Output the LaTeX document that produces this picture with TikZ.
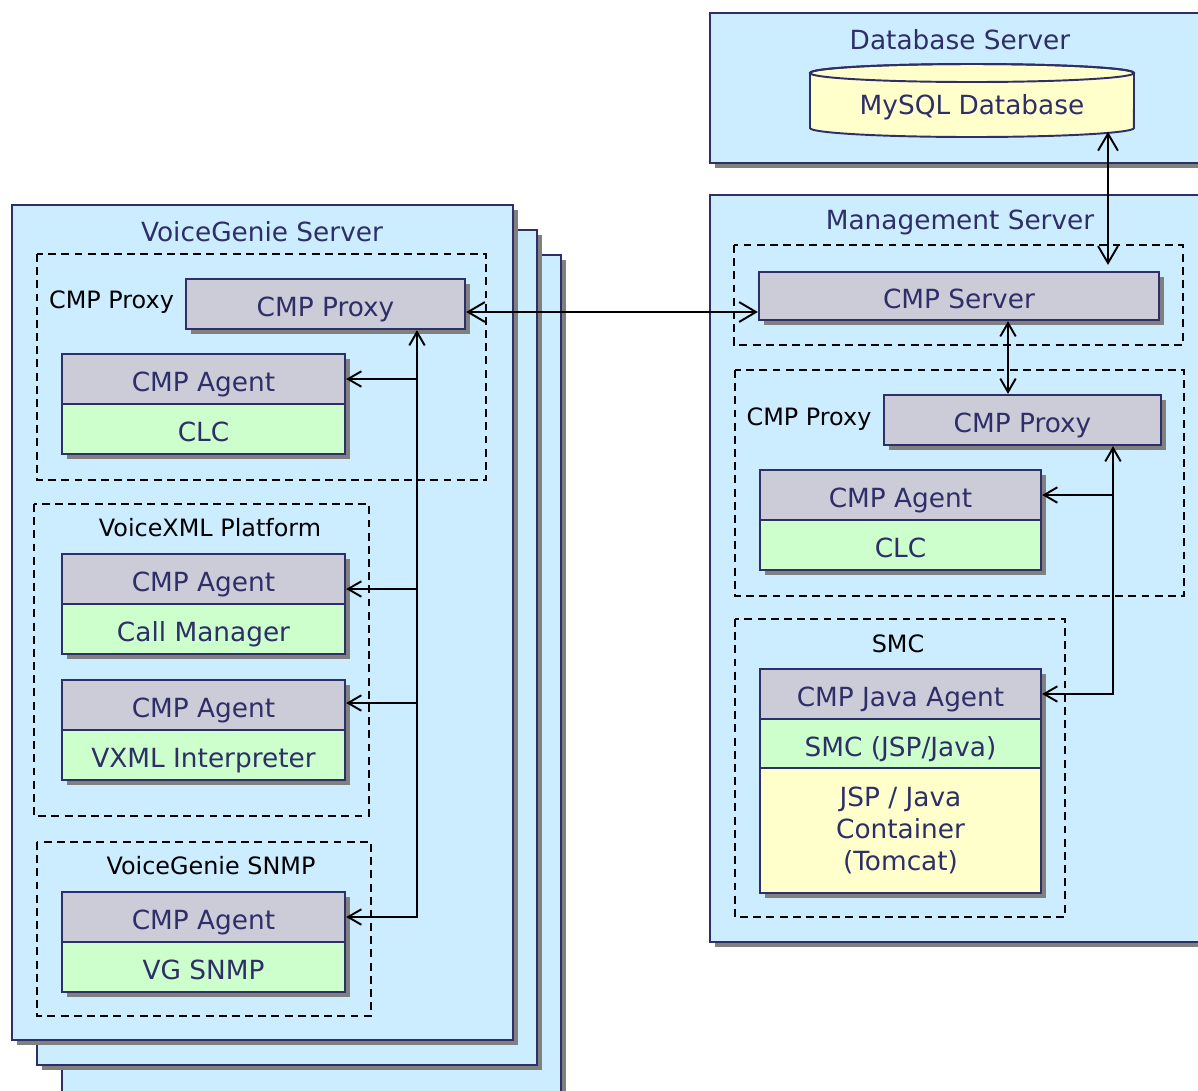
\documentclass[tikz,border=0pt]{standalone}
\usepackage{fontspec}
\setmainfont{DejaVu Sans}
\usepackage{xcolor}
\usepackage{tikz}
\usetikzlibrary{arrows.meta,shadows,calc}

\definecolor{srvblue}{RGB}{204,236,255}
\definecolor{navy}{RGB}{46,46,104}
\definecolor{agentgray}{RGB}{204,204,216}
\definecolor{compgreen}{RGB}{204,255,204}
\definecolor{dbyellow}{RGB}{255,255,204}
\definecolor{shadowgray}{RGB}{128,128,128}

\tikzset{
  shadowed/.style={drop shadow={shadow xshift=2.8pt, shadow yshift=-2.8pt, fill=shadowgray, opacity=1}},
  server/.style={draw=navy, line width=1.1pt, fill=srvblue, shadowed},
  groupbox/.style={draw=black, line width=1pt, dash pattern=on 4.5pt off 3pt},
  box/.style={draw=navy, line width=1.3pt, text=navy, inner sep=0pt, font=\fontsize{15}{18.4}\selectfont, shadowed},
  agent/.style={box, fill=agentgray, minimum height=1cm, text height=14.5pt, text depth=0pt},
  comp/.style={box, fill=compgreen, minimum height=1cm, text height=14.5pt, text depth=0pt},
  title/.style={text=navy, inner sep=0pt, font=\fontsize{15}{18}\selectfont},
  grouplabel/.style={text=black, inner sep=0pt, font=\fontsize{13.6}{16}\selectfont},
  link/.style={line width=1.1pt, {Straight Barb[length=7.6pt,width=8.8pt]}-{Straight Barb[length=7.6pt,width=8.8pt]}},
  longlink/.style={line width=1.1pt, {Straight Barb[length=9.6pt,width=11.3pt]}-{Straight Barb[length=9.6pt,width=11.3pt]}},
  feed/.style={line width=1.1pt, -{Straight Barb[length=7.6pt,width=8.8pt]}}
}

\begin{document}
\begin{tikzpicture}[x=0.02cm, y=-0.02cm]
            \clip (0,0) rectangle (1198,1090);
            % VoiceGenie servers (stacked)
            \draw[server] (62,255) rectangle (561,1120);
            \draw[server] (37,230) rectangle (537,1065);
            \draw[server] (12,205) rectangle (513,1040);
            \node[title] (vgtitle) at (262,232) {VoiceGenie Server};
            % Database server
            \draw[server] (710,13) rectangle (1220,163);
            \node[title] (dbtitle) at (960,40) {Database Server};
            \filldraw[draw=navy, line width=1.1pt, fill=dbyellow] (810,73) -- (810,128)
                arc[start angle=180, end angle=360, x radius=3.24cm, y radius=0.18cm] -- (1134,73)
                arc[start angle=0, end angle=180, x radius=3.24cm, y radius=0.18cm] -- cycle;
            \draw[navy, line width=1.1pt] (972,73) ellipse [x radius=3.24cm, y radius=0.18cm];
            \node[title, minimum width=6.48cm, minimum height=1.1cm, text depth=0pt] (db) at (972,104) {MySQL Database};
            % Management server
            \draw[server] (710,195) rectangle (1220,942);
            \node[title] (mgtitle) at (960,222) {Management Server};

            % dashed groups, left
            \draw[groupbox] (37,254) rectangle (486,480);
            \node[grouplabel] (vgproxylabel) at (111.5,302) {CMP Proxy};
            \draw[groupbox] (34,504) rectangle (369,816);
            \node[grouplabel] (vxmllabel) at (210,528) {VoiceXML Platform};
            \draw[groupbox] (37,842) rectangle (371,1016);
            \node[grouplabel] (snmplabel) at (211,866) {VoiceGenie SNMP};
            % dashed groups, right
            \draw[groupbox] (734,245) rectangle (1183,345);
            \draw[groupbox] (735,370) rectangle (1184,596);
            \node[grouplabel] (mgproxylabel) at (809,419) {CMP Proxy};
            \draw[groupbox] (735,619) rectangle (1065,917);
            \node[grouplabel] (smclabel) at (898,644) {SMC};

            % VoiceGenie boxes
            \node[agent, minimum width=5.58cm] (vgproxy) at (325.5,304) {CMP Proxy};
            \node[agent, minimum width=5.66cm] (vgagent1) at (203.5,379) {CMP Agent};
            \node[comp, minimum width=5.66cm] (vgclc) at (203.5,429) {CLC};
            \node[agent, minimum width=5.66cm] (vgagent2) at (203.5,579) {CMP Agent};
            \node[comp, minimum width=5.66cm] (vgcall) at (203.5,629) {Call Manager};
            \node[agent, minimum width=5.66cm] (vgagent3) at (203.5,705) {CMP Agent};
            \node[comp, minimum width=5.66cm] (vgvxml) at (203.5,755) {VXML Interpreter};
            \node[agent, minimum width=5.66cm] (vgagent4) at (203.5,917) {CMP Agent};
            \node[comp, minimum width=5.66cm] (vgsnmp) at (203.5,967) {VG SNMP};

            % Management boxes
            \node[agent, minimum width=8cm, minimum height=0.96cm] (cmpserver) at (959,296) {CMP Server};
            \node[agent, minimum width=5.54cm] (mgproxy) at (1022.5,420) {CMP Proxy};
            \node[agent, minimum width=5.62cm] (mgagent) at (900.5,495) {CMP Agent};
            \node[comp, minimum width=5.62cm] (mgclc) at (900.5,545) {CLC};
            \node[agent, minimum width=5.62cm] (javaagent) at (900.5,694) {CMP Java Agent};
            \node[comp, minimum width=5.62cm, minimum height=0.98cm] (smcjsp) at (900.5,743.5) {SMC (JSP/Java)};
            \node[box, fill=dbyellow, minimum width=5.62cm, minimum height=2.5cm, align=center] (tomcat) at (900.5,830.5) {JSP / Java\\Container\\(Tomcat)};

            % Links
            \coordinate (dbport) at ($(db.south)+(136,0)$);
            \draw[longlink] (dbport) -- ($(dbport |- cmpserver.north)+(0,-6)$);
            \coordinate (vgport) at ($(vgproxy.east)+(0,8)$);
            \draw[longlink] (vgport) -- (vgport -| cmpserver.west);
            \coordinate (csport) at ($(cmpserver.south)+(49,0)$);
            \draw[link] (csport) -- (csport |- mgproxy.north);
            % left bus
            \coordinate (vgbus) at ($(vgproxy.south)+(91.5,0)$);
            \draw[link] (vgbus) |- (vgagent4.east);
            \draw[feed] (vgbus |- vgagent1.east) -- (vgagent1.east);
            \draw[feed] ($(vgbus |- vgagent2.east)+(0,10)$) -- ($(vgagent2.east)+(0,10)$);
            \draw[feed] ($(vgbus |- vgagent3.east)+(0,-2)$) -- ($(vgagent3.east)+(0,-2)$);
            % right bus
            \coordinate (mgbus) at ($(mgproxy.south)+(90.5,0)$);
            \draw[link] (mgbus) |- (javaagent.east);
            \draw[feed] (mgbus |- mgagent.east) -- (mgagent.east);
\end{tikzpicture}
\end{document}
